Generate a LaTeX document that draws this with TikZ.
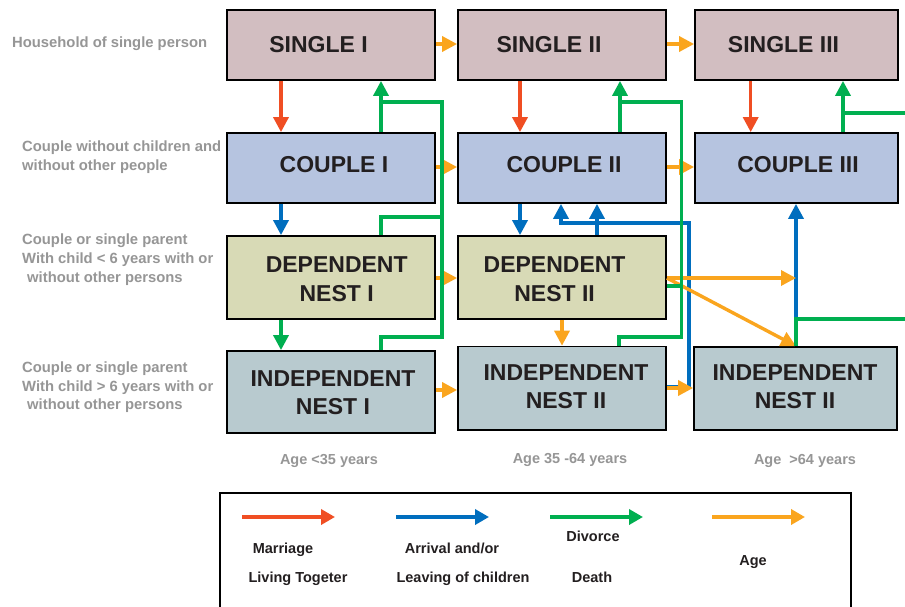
\documentclass[tikz,border=0pt]{standalone}
\usepackage{fontspec}
\setmainfont{Liberation Sans}
\usetikzlibrary{arrows.meta}
\definecolor{singlec}{RGB}{210,190,193}
\definecolor{couplec}{RGB}{182,196,224}
\definecolor{depc}{RGB}{216,218,182}
\definecolor{indc}{RGB}{184,202,207}
\definecolor{redc}{RGB}{240,78,35}
\definecolor{bluec}{RGB}{0,110,190}
\definecolor{greenc}{RGB}{0,175,80}
\definecolor{orangec}{RGB}{250,165,30}
\definecolor{grayc}{RGB}{150,150,150}
\definecolor{txtc}{RGB}{35,31,32}
\begin{document}
\begin{tikzpicture}[x=1pt,y=-1pt,
  box/.style={draw=black,line width=1.8pt,inner sep=0pt,minimum width=208pt},
  boxtext/.style={font=\fontsize{23}{28}\selectfont\bfseries,text=txtc,inner sep=0pt},
  side/.style={font=\fontsize{14.8}{17}\selectfont\bfseries,text=grayc,inner sep=0pt,anchor=base west},
  agel/.style={font=\fontsize{14.5}{17}\selectfont\bfseries,text=grayc,inner sep=0pt,anchor=base},
  legt/.style={font=\fontsize{14.5}{17}\selectfont\bfseries,text=txtc,inner sep=0pt,anchor=base},
  conn/.style={line width=3.4pt},
  arr/.style={-{Triangle[length=15pt,width=15pt]}},
  legarr/.style={line width=4pt,-{Triangle[length=14pt,width=15pt]}},
  rline/.style={conn,draw=redc},
  bline/.style={conn,draw=bluec},
  gline/.style={conn,draw=greenc},
  oline/.style={conn,draw=orangec}]
\useasboundingbox (0,0) rectangle (905,607);
\fill[white] (0,0) rectangle (905,607);

% boxes
\node[box,fill=singlec,minimum height=70pt] (s1) at (331,45) {};
\node[box,fill=singlec,minimum height=70pt] (s2) at (562,45) {};
\node[box,fill=singlec,minimum height=70pt,minimum width=203pt] (s3) at (796.5,45) {};
\node[box,fill=couplec,minimum height=70pt] (c1) at (331,168) {};
\node[box,fill=couplec,minimum height=70pt] (c2) at (562,168) {};
\node[box,fill=couplec,minimum height=70pt,minimum width=203pt] (c3) at (796.5,168) {};
\node[box,fill=depc,minimum height=83pt] (d1) at (331,277.5) {};
\node[box,fill=depc,minimum height=83pt] (d2) at (562,277.5) {};
\node[box,fill=indc,minimum height=82pt] (i1) at (331,392) {};
\node[box,fill=indc,minimum height=83.5pt] (i2) at (562,388.3) {};
\node[box,fill=indc,minimum height=83pt,minimum width=203pt] (i3) at (795.5,388.5) {};

% box texts
\node[boxtext] (ts1) at (318.5,45) {SINGLE I};
\node[boxtext] (ts2) at (549,45) {SINGLE II};
\node[boxtext] (ts3) at (783.5,45) {SINGLE III};
\node[boxtext] (tc1) at (334,165) {COUPLE I};
\node[boxtext] (tc2) at (564,165) {COUPLE II};
\node[boxtext] (tc3) at (798,165) {COUPLE III};
\node[boxtext] (td1a) at (336.7,265) {DEPENDENT};
\node[boxtext] (td1b) at (336.7,293.3) {NEST I};
\node[boxtext] (td2a) at (554.6,265) {DEPENDENT};
\node[boxtext] (td2b) at (554.6,293.3) {NEST II};
\node[boxtext] (ti1a) at (333,378.3) {INDEPENDENT};
\node[boxtext] (ti1b) at (333,406.7) {NEST I};
\node[boxtext] (ti2a) at (566,372.5) {INDEPENDENT};
\node[boxtext] (ti2b) at (566,400.5) {NEST II};
\node[boxtext] (ti3a) at (795,372.5) {INDEPENDENT};
\node[boxtext] (ti3b) at (795,400.5) {NEST II};

% side labels
\node[side] (l1) at (12,48) {Household of single person};
\node[side] (l2a) at (22,152) {Couple without children and};
\node[side] (l2b) at (22,171) {without other people};
\node[side] (l3a) at (22,244) {Couple or single parent};
\node[side] (l3b) at (22,263) {With child < 6 years with or};
\node[side] (l3c) at (27,282) {without other persons};
\node[side] (l4a) at (22,372) {Couple or single parent};
\node[side] (l4b) at (22,391) {With child > 6 years with or};
\node[side] (l4c) at (27,409) {without other persons};

% age labels
\node[agel] (a1) at (329,464) {Age <35 years};
\node[agel] (a2) at (570,463) {Age 35 -64 years};
\node[agel] (a3) at (805,464) {Age\ \ >64 years};

% red: marriage
\draw[rline,arr] (281,0 |- s1.south) -- (281,0 |- c1.north);
\draw[rline,arr] (520,0 |- s2.south) -- (520,0 |- c2.north);
\draw[rline,arr] (750.7,0 |- s3.south) -- (750.7,0 |- c3.north);

% blue: children
\draw[bline,arr] (281,0 |- c1.south) -- (281,0 |- d1.north);
\draw[bline,arr] (520,0 |- c2.south) -- (520,0 |- d2.north);
\draw[bline,arr] (597,0 |- d2.north) -- (597,0 |- c2.south);
\draw[bline,arr] (i2.east |- 0,387) -- (689,387) -- (689,223) -- (561,223) -- (561,0 |- c2.south);
\draw[bline,arr] (796,0 |- i3.north) -- (796,0 |- c3.south);

% orange: age
\draw[oline,arr] (s1.east |- 0,44) -- (s2.west |- 0,44);
\draw[oline,arr] (s2.east |- 0,44) -- (s3.west |- 0,44);
\draw[oline,arr] (c1.east |- 0,167) -- (c2.west |- 0,167);
\draw[oline,arr] (c2.east |- 0,167) -- (c3.west |- 0,167);
\draw[oline,arr] (d1.east |- 0,278) -- (d2.west |- 0,278);
\draw[oline,arr] (i1.east |- 0,390) -- (i2.west |- 0,390);
\draw[oline,arr] (562,0 |- d2.south) -- (562,0 |- i2.north);
\draw[oline,arr] (i2.east |- 0,388) -- (i3.west |- 0,388);
\coordinate (jb) at (796,278);
\draw[oline,arr] (d2.east |- 0,278) -- (jb);
\draw[oline,arr] (d2.east |- 0,278) -- (796,0 |- i3.north);

% green: divorce / death
\draw[gline,arr] (381,0 |- c1.north) -- (381,0 |- s1.south);
\draw[gline] (381,102) -- (442,102) -- (442,337) -- (381,337) -- (381,0 |- i1.north);
\draw[gline] (381,0 |- d1.north) -- (381,217) -- (442,217);
\draw[gline,arr] (281,0 |- d1.south) -- (281,0 |- i1.north);
\draw[gline,arr] (620,0 |- c2.north) -- (620,0 |- s2.south);
\draw[gline] (620,102) -- (681.7,102) -- (681.7,337) -- (619,337) -- (619,0 |- i2.north);
\draw[gline] (d2.east |- 0,286) -- (681.7,286);
\draw[gline,arr] (843,0 |- c3.north) -- (843,0 |- s3.south);
\draw[gline] (843,113) -- (907,113);
\draw[gline] (796,0 |- i3.north) -- (796,319) -- (907,319);

% legend
\draw[line width=2pt,draw=black] (220,493) rectangle (851,625);
\draw[legarr,draw=redc] (242,517) -- (335,517);
\draw[legarr,draw=bluec] (396,517) -- (489,517);
\draw[legarr,draw=greenc] (550,517) -- (643,517);
\draw[legarr,draw=orangec] (712,517) -- (805,517);
\node[legt] (m1) at (283,553) {Marriage};
\node[legt] (m2) at (298,582) {Living Togeter};
\node[legt] (b1) at (452,553) {Arrival and/or};
\node[legt] (b2) at (463,582) {Leaving of children};
\node[legt] (g1) at (593,541) {Divorce};
\node[legt] (g2) at (592,582) {Death};
\node[legt] (o1) at (753,565) {Age};
\end{tikzpicture}
\end{document}
